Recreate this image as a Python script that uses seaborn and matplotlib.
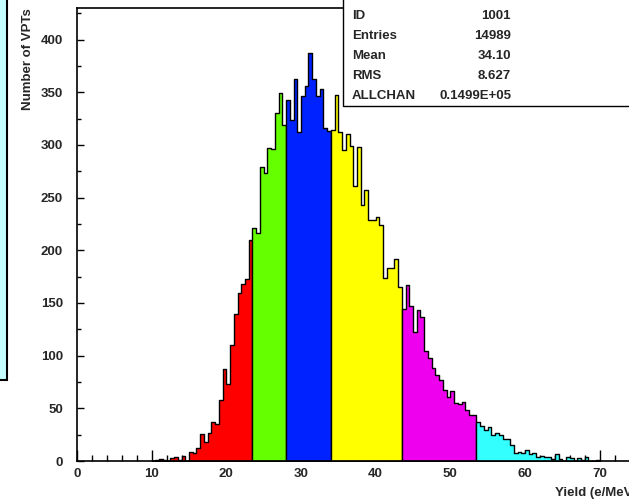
import numpy as np
import pandas as pd
import matplotlib
matplotlib.use("Agg")
import matplotlib.pyplot as plt
from matplotlib.patches import Rectangle
from matplotlib.ticker import MultipleLocator
import seaborn as sns

# histogram of VPT yields, 0.5 e/MeV bins, split into coloured bands
bin_width = 0.5
band_edges = [10.0, 23.5, 28.0, 34.0, 43.5, 53.5, 70.0]
band_colors = ["#ff0000", "#66ff00", "#0022ff", "#ffff00", "#ee00ee", "#33ffff"]

red_counts = [0, 1, 2, 1, 0, 3, 4, 1, 5, 0, 9, 8, 12, 26, 18, 27, 37, 35, 58, 87,
              73, 110, 140, 159, 168, 173, 210]
green_counts = [221, 216, 279, 273, 297, 296, 330, 349, 319]
blue_counts = [343, 324, 363, 312, 346, 356, 387, 363, 346, 353, 316, 313]
yellow_counts = [314, 347, 312, 295, 310, 299, 261, 298, 243, 257, 229, 229, 232,
                 224, 174, 183, 183, 192, 165]
magenta_counts = [144, 167, 147, 122, 143, 137, 104, 98, 88, 82, 77, 67, 61, 66,
                  55, 54, 56, 48, 44, 44]
cyan_counts = [37, 33, 29, 32, 25, 27, 25, 21, 21, 15, 8, 9, 8, 10, 7, 8, 4, 5, 4,
               4, 2, 7, 2, 0, 4, 3, 0, 3, 1, 4, 0, 0, 1]
band_counts = [red_counts, green_counts, blue_counts, yellow_counts,
               magenta_counts, cyan_counts]

stat_names = ["ID", "Entries", "Mean", "RMS", "ALLCHAN"]
stat_values = ["1001", "14989", "34.10", "8.627", "0.1499E+05"]

sns.set_theme(style="white")
plt.rcParams["font.family"] = ["Liberation Sans", "DejaVu Sans"]
plt.rcParams["font.weight"] = "bold"

fig = plt.figure(figsize=(6.29, 5), dpi=100)
ax = fig.add_axes([77 / 629, 39 / 500, 560 / 629, 453 / 500])

for i, counts in enumerate(band_counts):
    lo, hi = band_edges[i], band_edges[i + 1]
    centers = np.arange(len(counts)) * bin_width + lo + bin_width / 2
    df = pd.DataFrame({"yield": centers, "n": counts})
    sns.histplot(data=df, x="yield", weights="n", binwidth=bin_width,
                 binrange=(lo, hi), element="step",
                 fill=True, color=band_colors[i], alpha=1,
                 edgecolor="black", linewidth=1, ax=ax)

ax.set_xlim(0, 75)
ax.set_ylim(0, 430)
ax.set_xlabel("")
ax.set_ylabel("")
ax.xaxis.set_major_locator(MultipleLocator(10))
ax.xaxis.set_minor_locator(MultipleLocator(2))
ax.yaxis.set_major_locator(MultipleLocator(50))
ax.yaxis.set_minor_locator(MultipleLocator(25))
ax.tick_params(axis="x", which="major", direction="in", length=8, width=1,
               color="black", pad=5, labelsize=9.5)
ax.tick_params(axis="x", which="minor", direction="in", length=4, width=1,
               color="black")
ax.tick_params(axis="y", which="both", direction="in", length=5, width=1,
               color="black", pad=10, labelsize=9.5)
ax.tick_params(axis="y", which="minor", length=3)
ax.tick_params(bottom=True, left=True, which="both")
for lab in ax.get_xticklabels() + ax.get_yticklabels():
    lab.set_fontweight("bold")
for s in ax.spines.values():
    s.set_color("black")
    s.set_linewidth(1.2)

fig.text(28 / 629, 1 - 8 / 500, "Number of VPTs", rotation=90, ha="center",
         va="top", fontsize=9.5, fontweight="bold")
fig.text(555 / 629, 1 - 493 / 500, "Yield (e/MeV)", ha="left", va="center",
         fontsize=9.5, fontweight="bold")

# stats box (top right)
fig.add_artist(Rectangle((343 / 629, 1 - 106 / 500), 0.6, 0.3,
                         transform=fig.transFigure, facecolor="white",
                         edgecolor="black", linewidth=1, zorder=2))
for k, (name, val) in enumerate(zip(stat_names, stat_values)):
    y = 1 - (16 + 20 * k) / 500
    fig.text(352 / 629, y, name, ha="left", va="center", fontsize=9.5,
             fontweight="bold", zorder=3)
    fig.text(511 / 629, y, val, ha="right", va="center", fontsize=9.5,
             fontweight="bold", zorder=3)

# edge of a neighbouring pad at the left
fig.add_artist(Rectangle((-0.02, 1 - 380 / 500), 0.02 + 7 / 629, 0.8,
                         transform=fig.transFigure, facecolor="#c4ffff",
                         edgecolor="black", linewidth=1.5, zorder=2))

fig.savefig("out.png", dpi=100)
